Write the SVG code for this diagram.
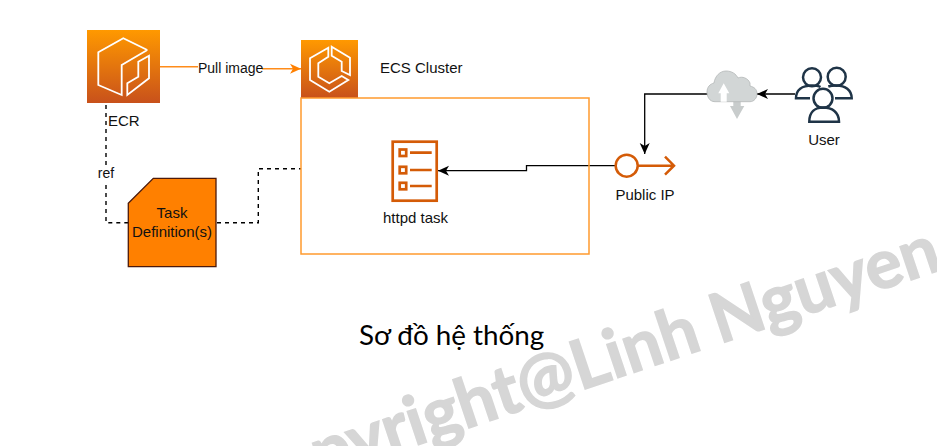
<svg xmlns="http://www.w3.org/2000/svg" width="937" height="446" viewBox="0 0 937 446">
<style>
text{font-family:"Liberation Sans",Arial,sans-serif;font-size:15px;fill:#111}
.m{text-anchor:middle}
.w{fill:none;stroke:#fff;stroke-width:1.800;stroke-linejoin:miter}
.wire{fill:none;stroke:#000;stroke-width:1.300}
.dash{fill:none;stroke:#000;stroke-width:1.400;stroke-dasharray:4 4}
.or{fill:none;stroke:#ff8c1a;stroke-width:1.500}
.task{fill:none;stroke:#d45b07;stroke-width:2.700}
.usr{fill:none;stroke:#1f3447;stroke-width:2.500}
</style>
<defs>
<linearGradient id="g" x1="0" y1="1" x2="0" y2="0"><stop offset="0" stop-color="#c8511b"/><stop offset="1" stop-color="#ff9900"/></linearGradient>
<marker id="a" markerUnits="userSpaceOnUse" markerWidth="14" markerHeight="12" refX="12" refY="6" orient="auto"><path d="M1 1L12 6L1 11L4 6Z" fill="#000"/></marker>
<marker id="o" markerUnits="userSpaceOnUse" markerWidth="14" markerHeight="12" refX="12" refY="6" orient="auto"><path d="M1 1L12 6L1 11L4 6Z" fill="#ff8000"/></marker>
</defs>
<rect width="937" height="446" fill="#fff"/>
<text transform="translate(591 387) rotate(-18.500)" x="-370" y="0" style="font-family:Lato,'Open Sans',sans-serif;font-weight:700;font-size:68.500px;fill:#d6d6d6;stroke:#d6d6d6;stroke-width:1.500">Copyright@Linh Nguyen</text>
<g id="connectors">
<path class="or" d="M160 66.700H198"/>
<path class="or" d="M262 68.700H301" marker-end="url(#o)"/>
<path class="dash" d="M106 105V222.700H128"/>
<path class="dash" d="M217 222.700H258.300V168.700H301"/>
<path class="wire" d="M615 165.700H526.500V170.700H438" marker-end="url(#a)"/>
<path class="wire" d="M708 94H644.700V154" marker-end="url(#a)"/>
<path class="wire" d="M795 94H757" marker-end="url(#a)"/>
</g>
<text x="198" y="72.500" style="font-size:14px">Pull image</text>
<g id="ecr">
<rect x="87" y="30" width="73" height="73" fill="url(#g)"/>
<path class="w" d="M147.300 50L123.300 38.300L98.300 52.300V85L121.700 95V65L147.300 50"/>
<path class="w" d="M138.300 61.700L149 55.700V78.300L127.300 95V83.300L138.300 76.700Z"/>
<text x="108" y="125.500">ECR</text>
</g>
<g id="ecs">
<rect x="301" y="40" width="57" height="58" fill="url(#g)"/>
<path class="w" d="M328.300 47.700L310 58.300V80L329.300 91.700L348.300 80L341.700 76L329.300 83.300L318.300 76.700V63.300L328.300 56.700Z"/>
<path class="w" d="M331.700 46.700L350 57.700V75L341.700 71V61.700L331.700 55.700Z"/>
<text x="380" y="73">ECS Cluster</text>
</g>
<g id="container"><rect x="301" y="98" width="288" height="156" fill="none" stroke="#ff9a2e" stroke-width="1.500"/></g>
<g id="task-definition">
<path d="M128.300 203.300L153.300 178.300H216V266.700H128.300Z" fill="#ff8000" stroke="#4d1a0a" stroke-width="1.300"/>
<text class="m" x="172" y="218">Task</text>
<text class="m" x="172" y="237">Definition(s)</text>
</g>
<g id="ref-label"><rect x="96" y="165" width="20" height="17" fill="#fff"/><text class="m" x="106" y="178" style="font-size:14px">ref</text></g>
<g id="httpd-task">
<rect x="392.700" y="141.700" width="44" height="59" class="task"/>
<rect x="399.700" y="149.500" width="6.500" height="6.500" class="task"/><rect x="399.700" y="166.800" width="6.500" height="6.500" class="task"/><rect x="399.700" y="182.800" width="6.500" height="6.500" class="task"/>
<path class="task" d="M410 152.700H431.700M410 170H431.700M410 186H431.700"/>
<text class="m" x="415.500" y="223">httpd task</text>
</g>
<g id="public-ip">
<circle cx="626.700" cy="165.700" r="11" fill="#fff" stroke="#d45b07" stroke-width="2.500"/>
<path d="M638 165.700H673M665 156.700L674 165.700L665 174.700" fill="none" stroke="#d45b07" stroke-width="2.500"/>
<text class="m" x="645" y="200">Public IP</text>
</g>
<g id="cloud">
<path d="M733.300 101V106H730L737 119L744.300 106H740.700V101Z" fill="#c8cccc"/>
<path d="M715 101.700C709 101.700 707 96 707 92C707 87 710 84 714 83C715 76 720 71 726 71C732 71 736 74 738 78C742 76 748 78 750 83L750 86C754 87 757 89 757 94C757 98 754 101.700 750 101.700Z" fill="#d2d6d6" stroke="#b4b8b8" stroke-width=".8"/>
<path d="M720.700 101.700V93.300H718.300L723.700 83.300L729.300 93.300H726.700V101.700Z" fill="#fff"/>
</g>
<g id="user">
<circle cx="812" cy="77.300" r="9" class="usr"/><circle cx="836.700" cy="76.700" r="9" class="usr"/><circle cx="823" cy="98.300" r="9.500" class="usr"/>
<path class="usr" d="M810 98.300H796C796 90 802 85.500 812 85.500C815 85.500 818 85.500 820.500 87M828.300 86.500C831 85.500 833 85.500 836.700 85.500C845 85.500 851.700 90 851.700 98.300H835M809.300 121.700C809.300 112 815 107.500 823 107.500C832 107.500 839 112 839 121.700Z"/>
<text class="m" x="824" y="145">User</text>
</g>
<text x="359" y="345" style="font-family:Lato,'Open Sans',sans-serif;font-size:27.800px;fill:#000">Sơ đồ hệ thống</text>
</svg>
